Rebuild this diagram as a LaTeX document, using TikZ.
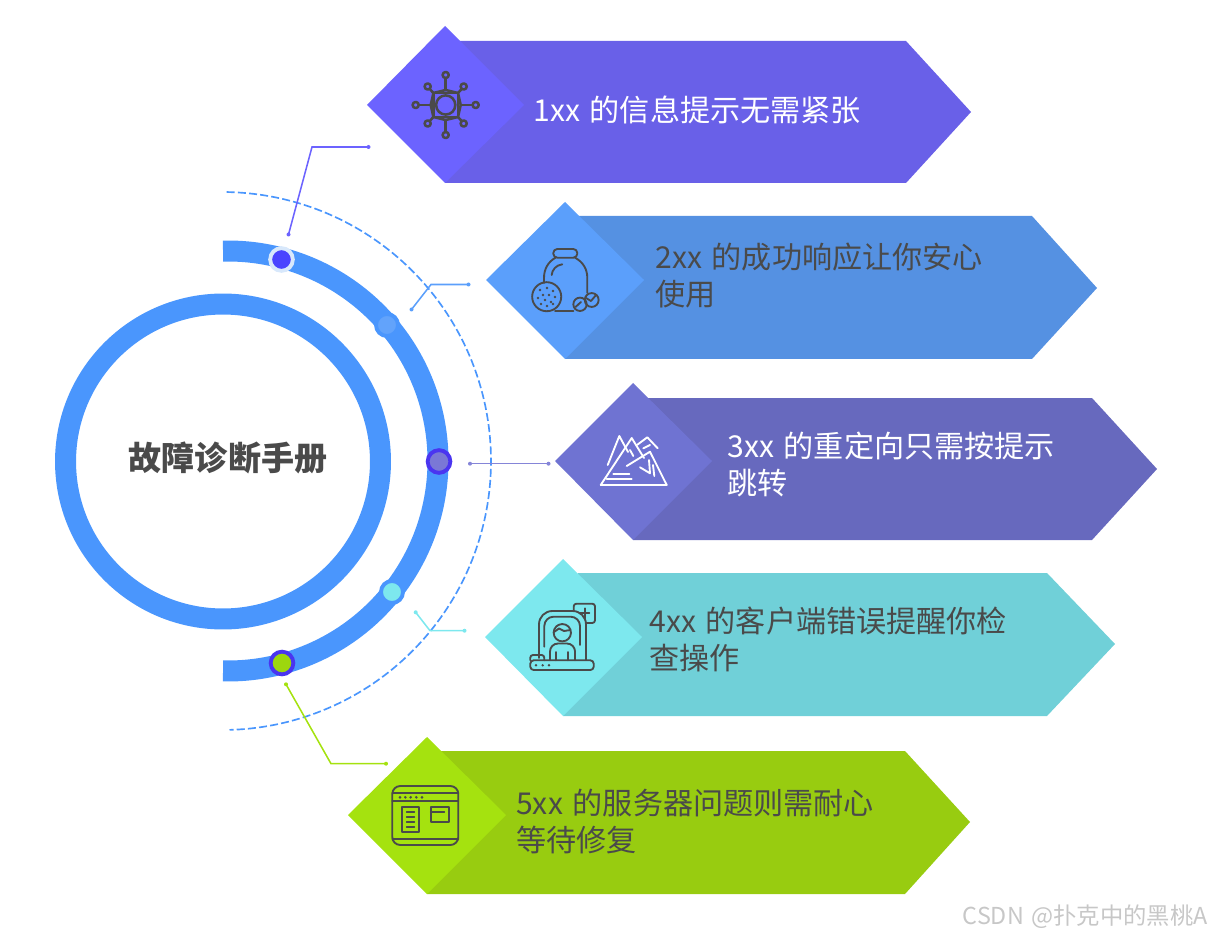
\documentclass[tikz,border=0pt]{standalone}
\usepackage{fontspec}
\setmainfont[WordSpace=1.45]{Noto Sans CJK SC}
\definecolor{ringblue}{HTML}{4A96FD}
\definecolor{inkgray}{HTML}{4A4A4A}
\definecolor{bannerA}{HTML}{6960E8}\definecolor{diaA}{HTML}{6C63FF}
\definecolor{bannerB}{HTML}{5591E2}\definecolor{diaB}{HTML}{5B9FFB}
\definecolor{bannerC}{HTML}{6769BE}\definecolor{diaC}{HTML}{6F73D2}
\definecolor{bannerD}{HTML}{70D0D8}\definecolor{diaD}{HTML}{7DE8EE}
\definecolor{bannerE}{HTML}{98CC10}\definecolor{diaE}{HTML}{A5E20F}
\definecolor{haloA}{HTML}{D8E8FB}\definecolor{coreA}{HTML}{4A44FF}
\definecolor{haloC}{HTML}{4A35F0}\definecolor{coreC}{HTML}{7A78D6}
\definecolor{coreB}{HTML}{62A3FB}\definecolor{lineC}{HTML}{8585D8}
\tikzset{
  bartext/.style={anchor=west,align=left,inner sep=0pt,font=\fontsize{22.6}{27.75}\selectfont},
  jointdot/.style={circle,inner sep=0pt,minimum size=#1,line width=2.9pt},
  endtick/.style={circle,fill=#1,inner sep=0pt,minimum size=3pt},
  leader/.style={draw=#1,line width=1.15pt},
  iconline/.style={draw=inkgray,line width=1.4pt,line cap=round,line join=round},
  iconheavy/.style={draw=inkgray,line width=1.9pt,line cap=round,line join=round},
  iconwhite/.style={draw=white,line width=1.4pt,line cap=round,line join=round},
}
\begin{document}
\begin{tikzpicture}[x=0.75pt,y=-0.75pt]
\useasboundingbox (0,0) rectangle (1212,937);
% banners
\fill[bannerA] (458,41)--(906,41)--(971,112)--(906,183)--(445,183)--cycle;
\fill[diaA] (367,105)--(445,26)--(524,105)--(445,183)--cycle;
\fill[bannerB] (578,216)--(1032,216)--(1097,288)--(1032,359)--(565,359)--cycle;
\fill[diaB] (486,280)--(565,202)--(644,280)--(565,359)--cycle;
\fill[bannerC] (648,398)--(1092,398)--(1157,469)--(1092,540)--(633,540)--cycle;
\fill[diaC] (555,461)--(633,383)--(712,461)--(633,540)--cycle;
\fill[bannerD] (578,573)--(1047,573)--(1115,644)--(1047,716)--(563,716)--cycle;
\fill[diaD] (485,637)--(563,559)--(642,637)--(563,716)--cycle;
\fill[bannerE] (441,751)--(905,751)--(970,822)--(905,894)--(427,894)--cycle;
\fill[diaE] (348,815)--(427,737)--(506,815)--(427,894)--cycle;
% rings
\draw[ringblue,line width=15.75pt] (223,461.5) circle[radius=118.1pt];
\draw[ringblue,line width=15.75pt,line join=round] plot[domain=91.36:-91.36,samples=160] ({228+210*cos(\x)},{461-210*sin(\x)});
\draw[ringblue,line width=1.25pt,dash pattern=on 6pt off 2.4pt] plot[domain=89:-88.4,samples=160] ({222+269*cos(\x)},{461-269*sin(\x)});
% joints
\node[jointdot=17pt,draw=haloA,fill=coreA] (j1) at (281.5,259.5) {};
\node[jointdot=16.5pt,draw=ringblue,fill=coreB] (j2) at (387,325) {};
\node[jointdot=17pt,draw=haloC,fill=coreC] (j3) at (439,461.5) {};
\node[jointdot=16.5pt,draw=ringblue,fill=diaD] (j4) at (392,592) {};
\node[jointdot=17pt,draw=haloC,fill=diaE!95!black] (j5) at (282,663) {};
% leaders
\node[endtick=diaA] (a1) at (288.5,234.5) {};
\coordinate (b1) at (312,147);
\node[endtick=diaA] (c1) at (368.5,147) {};
\draw[leader=diaA] (a1.center)--(b1)--(c1.center);
\node[endtick=diaB] (a2) at (411.5,309.5) {};
\coordinate (b2) at (431,284.5);
\node[endtick=diaB] (c2) at (468.5,284.5) {};
\draw[leader=diaB] (a2.center)--(b2)--(c2.center);
\node[endtick=lineC] (a3) at (470,463.7) {};
\node[endtick=lineC] (c3) at (548.5,463.7) {};
\draw[leader=lineC] (a3.center)--(c3.center);
\node[endtick=diaD] (a4) at (415.7,612.3) {};
\coordinate (b4) at (430,630.7);
\node[endtick=diaD] (c4) at (464.5,630.7) {};
\draw[leader=diaD] (a4.center)--(b4)--(c4.center);
\node[endtick=diaE] (a5) at (286,684.3) {};
\coordinate (b5) at (331,763.7);
\node[endtick=diaE] (c5) at (386,763.7) {};
\draw[leader=diaE] (a5.center)--(b5)--(c5.center);
% texts
\node[font=\fontsize{24.8}{30}\selectfont\bfseries,text=inkgray,inner sep=0pt] (title) at (228,458) {故障诊断手册};
\node[bartext,text=white] (t1) at (533,110) {1xx 的信息提示无需紧张};
\node[bartext,text=inkgray] (t2) at (655,275.5) {2xx 的成功响应让你安心\\使用};
\node[bartext,text=white] (t3) at (727,464.5) {3xx 的重定向只需按提示\\跳转};
\node[bartext,text=inkgray] (t4) at (649,639) {4xx 的客户端错误提醒你检\\查操作};
\node[bartext,text=inkgray] (t5) at (516,821.5) {5xx 的服务器问题则需耐心\\等待修复};
\node[anchor=east,inner sep=0pt,text=black!22,font=\fontsize{17.5}{20}\selectfont] (wm) at (1208,917) {CSDN @扑克中的黑桃A};
% icon 1
\draw[iconheavy] (445.7,105) circle[radius=7.2pt];
\draw[iconheavy] (445.7,90)--(458,93)--(460.7,105)--(458,117)--(445.7,120)--(433.4,117)--(430.7,105)--(433.4,93)--cycle;
\draw[iconheavy] (433.4,93)--(458,93)--(458,117)--(433.4,117)--cycle;
\foreach \dx/\dy in {0/-1,0/1,-1/0,1/0}{
  \draw[iconheavy] (445.7+15*\dx,105+15*\dy)--(445.7+27*\dx,105+27*\dy);
  \draw[iconheavy] (445.7+30*\dx,105+30*\dy) circle[radius=2.3pt];}
\foreach \dx/\dy in {-1/-1,1/-1,-1/1,1/1}{
  \draw[iconheavy] (445.7+12.3*\dx,105+12*\dy)--(445.7+15.5*\dx,105+15.5*\dy);
  \draw[iconheavy] (445.7+18*\dx,105+18.5*\dy) circle[radius=2.3pt];}
% icon 2
\draw[iconline,rounded corners=3pt] (553.3,249) rectangle (577.3,257.7);
\draw[iconline] (555.5,257.7) .. controls (548,262) and (544,269) .. (544,278)--(544,283);
\draw[iconline] (575,257.7) .. controls (583,262) and (587.3,269) .. (587.3,278)--(587.3,293);
\draw[iconline] (555,310.7)--(573.5,310.7);
\draw[iconline] (551.7,275) .. controls (552,270) and (556,265) .. (562.3,264.3);
\draw[iconline] (546.7,296.7) circle[radius=10.9pt];
\draw[iconline] (580,304.3) circle[radius=5pt];
\draw[iconline] (591.7,300) circle[radius=5.2pt];
\draw[iconline] (575.5,307)--(581,302);
\draw[iconline] (586,298)--(591,301)--(596,295);
\foreach \px/\py in {540/290,547/288,553/291,543/295,549/295,555/297,538/298,545/300,551/302,541/304,547/306,553/304}
  \fill[inkgray] (\px,\py) circle[radius=1pt];
% icon 3
\draw[iconwhite] (600.7,485)--(666.7,485);
\draw[iconwhite] (600.7,485)--(631.7,438)--(644,458);
\draw[iconwhite] (607.7,465)--(619.3,436)--(628,452);
\draw[iconwhite] (637,445)--(647.3,437.3)--(657.7,448.3);
\draw[iconwhite] (626.7,466)--(650,451.7)--(666.7,485);
\draw[iconwhite] (613.3,474)--(629.3,474);
\draw[iconwhite] (606.7,478.7)--(631.7,478.7);
\draw[iconwhite] (640,467.3)--(650,473.3)--(649,460);
\draw[iconwhite] (630,450)--(633.3,456);
\draw[iconwhite] (643.3,448.3)--(650,445);
\draw[iconwhite] (653,465)--(654.3,476);
% icon 4
\draw[iconline,rounded corners=10pt] (539,658)--(539,611)--(586,611)--(586,660);
\draw[iconline,rounded corners=7pt] (544.3,646.7)--(544.3,616.7)--(580,616.7)--(580,645);
\draw[iconline,rounded corners=2pt] (573.7,611)--(573.7,603.7)--(595,603.7)--(595,623)--(586,623);
\draw[iconline] (585,608.3)--(585,618.3) (580,613.3)--(589.3,613.3);
\draw[iconline] (562.3,632.7) circle[radius=6.5pt];
\draw[iconline] (554,632)--(559,628.5)--(564,631)--(570.5,630);
\draw[iconline,rounded corners=6pt] (550,660.3)--(550,643.5)--(575,643.5)--(575,660.3);
\draw[iconline] (556.3,652)--(556.3,660.3) (568.3,652)--(568.3,660.3);
\draw[iconline,rounded corners=2.5pt] (530.3,660.3) rectangle (593.7,670);
\draw[iconline,rounded corners=2pt] (530.3,660.3)--(530.3,655)--(544.3,655)--(544.3,660.3);
\foreach \px in {536,542.7,549} \fill[inkgray] (\px,665.3) circle[radius=1pt];
% icon 5
\draw[iconline,rounded corners=6pt] (392.3,786) rectangle (458.3,845);
\draw[iconline] (392.3,793.3)--(458.3,793.3) (392.3,801)--(458.3,801) (392.3,839)--(458.3,839);
\foreach \px in {400,405.3,410.7,416.3,422} \fill[inkgray] (\px,797.3) circle[radius=1.1pt];
\draw[iconline] (401.7,806.7) rectangle (419,832.3);
\foreach \py in {811.7,816.7,821.7,827} \draw[iconline] (406.7,\py)--(414.3,\py);
\draw[iconline] (430.7,806.7) rectangle (449.3,822.3);
\draw[iconline] (430.7,812.3)--(444.3,812.3);
\end{tikzpicture}
\end{document}
